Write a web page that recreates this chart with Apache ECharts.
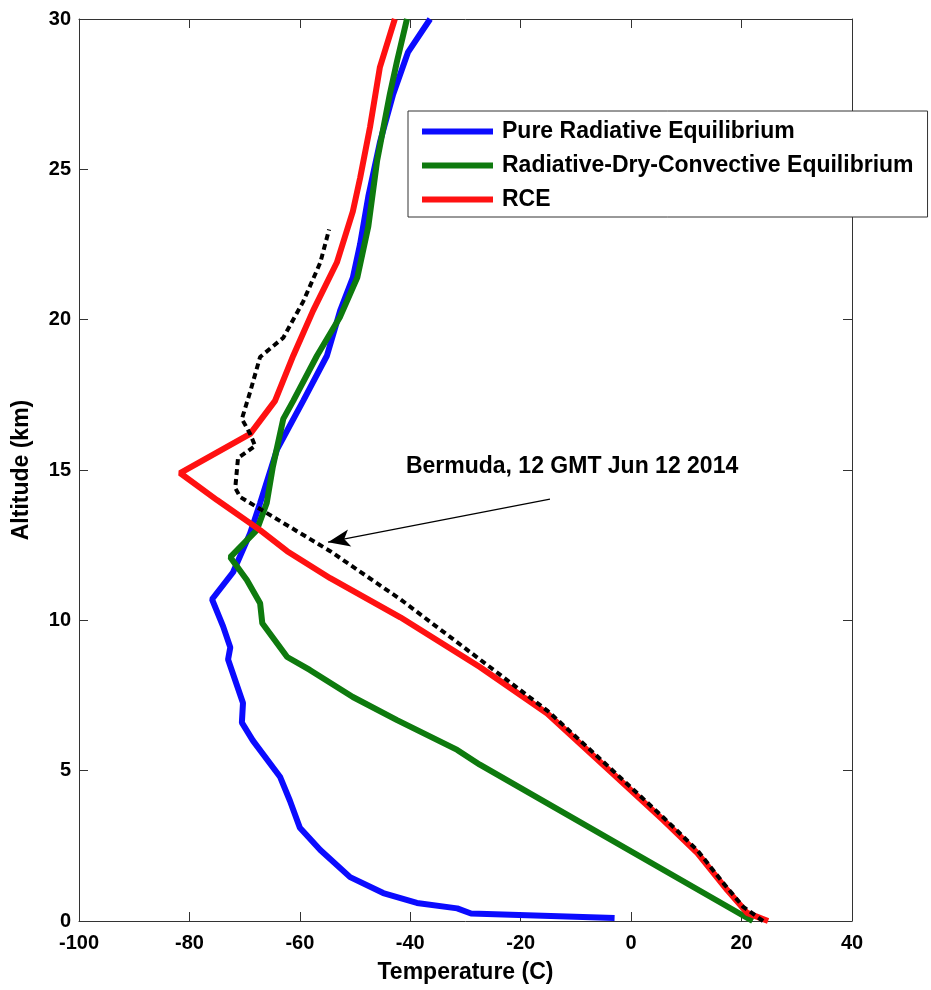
<!DOCTYPE html>
<html lang="en">
<head>
    <meta charset="UTF-8">
    <title>Temperature profiles</title>
    <script src="https://cdn.jsdelivr.net/npm/echarts@6/dist/echarts.min.js"></script>
    <style>
        html, body { margin: 0; padding: 0; background: #fff; }
    </style>
</head>
<body>
<div id="main" style="width: 931px;height:990px;"></div>
<script type="text/javascript">
    // temperature (C) and altitude (km), bottom to top
    var pureT = [-3, -29, -31.5, -38.8, -44.9, -50.9, -56.3, -60, -61.8, -63.6, -68.5, -70.5, -70.3, -73, -72.6, -73.9, -75.9, -72.1, -69, -67.2, -64.1, -59.4, -55.1, -52.7, -50.4, -49.1, -47.6, -45.5, -43.1, -40.4, -36.4];
    var pureZ = [0.1, 0.25, 0.42, 0.6, 0.93, 1.46, 2.36, 3.1, 4.0, 4.8, 6.0, 6.6, 7.25, 8.7, 9.1, 9.8, 10.7, 11.6, 12.9, 13.9, 15.7, 17.3, 18.8, 20.3, 21.4, 22.5, 24.1, 25.9, 27.5, 28.9, 30];

    var dryT = [22, -27.4, -31.5, -42.4, -50.4, -58.2, -62.3, -66.8, -67.2, -69.6, -72.6, -67.8, -66, -64.9, -63, -61.2, -56.9, -52.7, -49.6, -47.6, -46, -43.7, -42.4, -40.6];
    var dryZ = [0, 5.2, 5.69, 6.68, 7.45, 8.35, 8.78, 9.9, 10.57, 11.34, 12.1, 13.0, 13.9, 15.1, 16.7, 17.3, 18.8, 20.1, 21.4, 23.1, 25.3, 27.5, 28.6, 30];

    var rceT = [24.8, 21.0, 17.4, 12.0, 5.8, -3.3, -15.2, -27.4, -41.8, -54.5, -62.3, -67.2, -75, -81.7, -69, -64.5, -61.2, -57.6, -53.3, -50.4, -49.1, -47.3, -45.5, -42.8];
    var rceZ = [0, 0.27, 1.03, 2.26, 3.36, 4.9, 6.9, 8.45, 10.1, 11.4, 12.3, 13.0, 14.0, 14.9, 16.2, 17.3, 18.8, 20.3, 21.9, 23.6, 24.7, 26.4, 28.4, 30];

    var bermudaT = [23.9, 20.3, 16.7, 12, 5.8, -3.3, -15.2, -27.4, -41.8, -54.5, -70.8, -71.7, -71.2, -68.1, -69, -70.5, -69, -67.2, -63, -59.4, -56.3, -54.7];
    var bermudaZ = [0, 0.47, 1.26, 2.35, 3.45, 5.0, 7.0, 8.7, 10.7, 12.3, 14.1, 14.4, 15.4, 15.8, 16.2, 16.7, 17.6, 18.76, 19.4, 20.6, 21.9, 23.0];

    var names = ['Pure Radiative Equilibrium', 'Radiative-Dry-Convective Equilibrium', 'RCE'];
    var noteText = 'Bermuda, 12 GMT Jun 12 2014';
    var notePos = [-10.7, 15.1];
    var arrowFrom = [-14.7, 14.03];
    var arrowTo = [-54.9, 12.6];

    function pairs(t, z) {
        var out = [];
        for (var i = 0; i < t.length; i++) {
            out.push([t[i], z[i]]);
        }
        return out;
    }

    var myChart = echarts.init(document.getElementById('main'));
    var tickFont = { color: '#000', fontWeight: 'bold', fontSize: 20, fontFamily: 'Liberation Sans' };
    var nameFont = { color: '#000', fontWeight: 'bold', fontSize: 23, fontFamily: 'Liberation Sans' };
    var boxLine = { show: true, onZero: false, lineStyle: { color: '#333', width: 1 } };
    var inTick = { show: true, inside: true, length: 9, lineStyle: { color: '#333' } };

    var option = {
        animation: false,
        backgroundColor: '#fff',
        grid: { left: 79, right: 79, top: 19, bottom: 69 },
        legend: {
            data: names,
            orient: 'vertical',
            left: 408,
            top: 111,
            padding: [9, 14, 6, 14],
            itemGap: 11,
            itemWidth: 71,
            itemHeight: 6,
            icon: 'rect',
            backgroundColor: '#fff',
            borderColor: '#333',
            borderWidth: 1,
            borderRadius: 0,
            textStyle: { color: '#000', fontWeight: 'bold', fontSize: 23, fontFamily: 'Liberation Sans', lineHeight: 22, padding: [0, 0, 0, 4] }
        },
        xAxis: [{
            type: 'value',
            min: -100, max: 40, interval: 20,
            name: 'Temperature (C)',
            nameLocation: 'middle',
            nameGap: 40,
            nameTextStyle: nameFont,
            axisLine: boxLine,
            axisTick: inTick,
            axisLabel: Object.assign({ margin: 12 }, tickFont),
            splitLine: { show: false }
        }, {
            type: 'value', position: 'top',
            min: -100, max: 40, interval: 20,
            axisLine: boxLine,
            axisTick: inTick,
            axisLabel: { show: false },
            splitLine: { show: false }
        }],
        yAxis: [{
            type: 'value',
            min: 0, max: 30, interval: 5,
            name: 'Altitude (km)',
            nameLocation: 'middle',
            nameGap: 46,
            nameTextStyle: nameFont,
            axisLine: boxLine,
            axisTick: inTick,
            axisLabel: Object.assign({ margin: 8 }, tickFont),
            splitLine: { show: false }
        }, {
            type: 'value', position: 'right',
            min: 0, max: 30, interval: 5,
            axisLine: boxLine,
            axisTick: inTick,
            axisLabel: { show: false },
            splitLine: { show: false }
        }],
        series: [
            {
                name: names[0], type: 'line', showSymbol: false, symbol: 'none',
                data: pairs(pureT, pureZ),
                itemStyle: { color: '#0b0bff' },
                lineStyle: { color: '#0b0bff', width: 6 }
            },
            {
                name: names[1], type: 'line', showSymbol: false, symbol: 'none',
                data: pairs(dryT, dryZ),
                itemStyle: { color: '#0e7a0e' },
                lineStyle: { color: '#0e7a0e', width: 6 }
            },
            {
                name: names[2], type: 'line', showSymbol: false, symbol: 'none',
                data: pairs(rceT, rceZ),
                itemStyle: { color: '#ff1111' },
                lineStyle: { color: '#ff1111', width: 6 }
            },
            {
                name: 'Bermuda', type: 'line', showSymbol: false, symbol: 'none',
                data: pairs(bermudaT, bermudaZ),
                lineStyle: { color: '#000', width: 4, type: [6, 4] },
                markLine: {
                    silent: true,
                    symbol: ['none', 'arrow'],
                    symbolSize: [13, 22],
                    label: { show: false },
                    lineStyle: { color: '#000', width: 1.3, type: 'solid' },
                    data: [[{ coord: arrowFrom }, { coord: arrowTo }]]
                }
            },
            {
                name: 'note', type: 'scatter', symbolSize: 0, silent: true,
                data: [notePos],
                itemStyle: { opacity: 1 },
                label: {
                    show: true, position: 'inside', formatter: noteText,
                    color: '#000', fontWeight: 'bold', fontSize: 23, fontFamily: 'Liberation Sans'
                }
            }
        ]
    };
    myChart.setOption(option);
</script>
</body>
</html>
